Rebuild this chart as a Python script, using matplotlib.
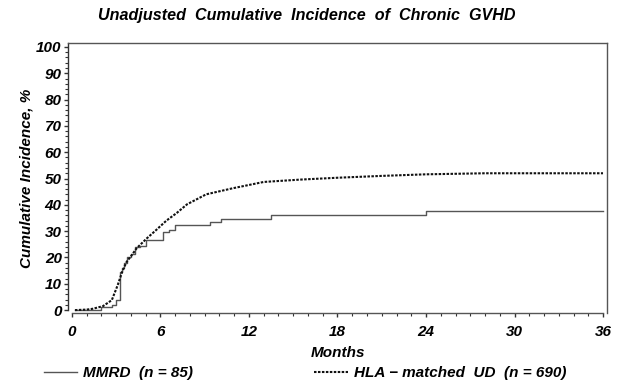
import matplotlib.pyplot as plt
from matplotlib.ticker import MultipleLocator

plt.rcParams['font.family'] = ['Liberation Sans', 'DejaVu Sans']

# MMRD (step curve)
mmrd_t = [0.2, 2.0, 2.7, 3.0, 3.25, 3.4, 3.55, 3.7, 4.0, 4.3, 4.6, 5.0, 6.2, 6.6, 7.0, 9.35, 10.1, 13.5, 24.0, 36.0]
mmrd_y = [0.0, 1.2, 2.0, 3.8, 14.5, 16.0, 18.0, 20.0, 21.5, 24.0, 24.5, 26.8, 29.5, 30.5, 32.3, 33.3, 34.8, 36.1, 37.5, 37.5]

# HLA-matched UD
ud_t = [0.2, 1.0, 1.4, 2.1, 2.7, 3.1, 3.4, 3.7, 4.0, 4.4, 5.1, 5.7, 6.4, 7.1, 7.8, 9.1, 10.9, 13.0, 15.5, 18.0, 21.0, 24.0, 28.0, 32.0, 36.0]
ud_y = [0.0, 0.2, 0.5, 1.5, 3.8, 9.5, 14.5, 18.3, 20.5, 23.6, 27.4, 30.4, 34.0, 36.9, 40.2, 44.0, 46.3, 48.7, 49.6, 50.3, 51.0, 51.6, 52.0, 52.0, 52.0]

xticks = [0, 6, 12, 18, 24, 30, 36]
yticks = list(range(0, 101, 10))

fig = plt.figure(figsize=(6.28, 3.83), dpi=100)
ax = fig.add_axes([68 / 628, 1 - 313 / 383, 539 / 628, 270 / 383])

ax.plot(mmrd_t, mmrd_y, drawstyle='steps-post', color='#555555', lw=1.0,
        label='MMRD  (n = 85)')
ax.plot(ud_t, ud_y, color='#111111', lw=1.5, linestyle=(0, (1.2, 0.7)),
        label='HLA \u2212 matched  UD  (n = 690)')

ax.set_xlim(-0.27, 36.27)
ax.set_ylim(-1.1, 101.5)
ax.set_xticks(xticks)
ax.set_yticks(yticks)
ax.xaxis.set_minor_locator(MultipleLocator(1))
ax.yaxis.set_minor_locator(MultipleLocator(2))

for s in ax.spines.values():
    s.set_color('#555555')
    s.set_linewidth(1.0)
ax.spines['bottom'].set_bounds(0, 36)
ax.spines['left'].set_bounds(0, 101.5)
ax.spines['left'].set_color('#333333')

ax.tick_params(axis='both', which='major', direction='out', length=3, width=1,
               color='#333333', labelsize=11)
ax.tick_params(axis='both', which='minor', direction='out', length=2, width=0.8,
               color='#333333')
ax.tick_params(axis='x', pad=6)
ax.tick_params(axis='y', pad=1.5)
for lab in ax.get_xticklabels() + ax.get_yticklabels():
    lab.set_fontweight('bold')
    lab.set_fontstyle('italic')

ax.set_xlabel('Months', fontsize=11, fontweight='bold', fontstyle='italic', labelpad=5)
ax.set_ylabel('Cumulative Incidence, %', fontsize=11, fontweight='bold',
              fontstyle='italic', labelpad=2)

fig.text(0.489, 0.96, 'Unadjusted  Cumulative  Incidence  of  Chronic  GVHD',
         ha='center', va='center', fontsize=11.6, fontweight='bold', fontstyle='italic')

leg = ax.legend(loc='center left', bbox_to_anchor=(30 / 628, 1 - 373 / 383),
                bbox_transform=fig.transFigure, ncol=2, frameon=False,
                handlelength=2.2, handletextpad=0.4, columnspacing=7.9,
                prop={'size': 11, 'weight': 'bold', 'style': 'italic'})

fig.savefig('out.png', dpi=100)
